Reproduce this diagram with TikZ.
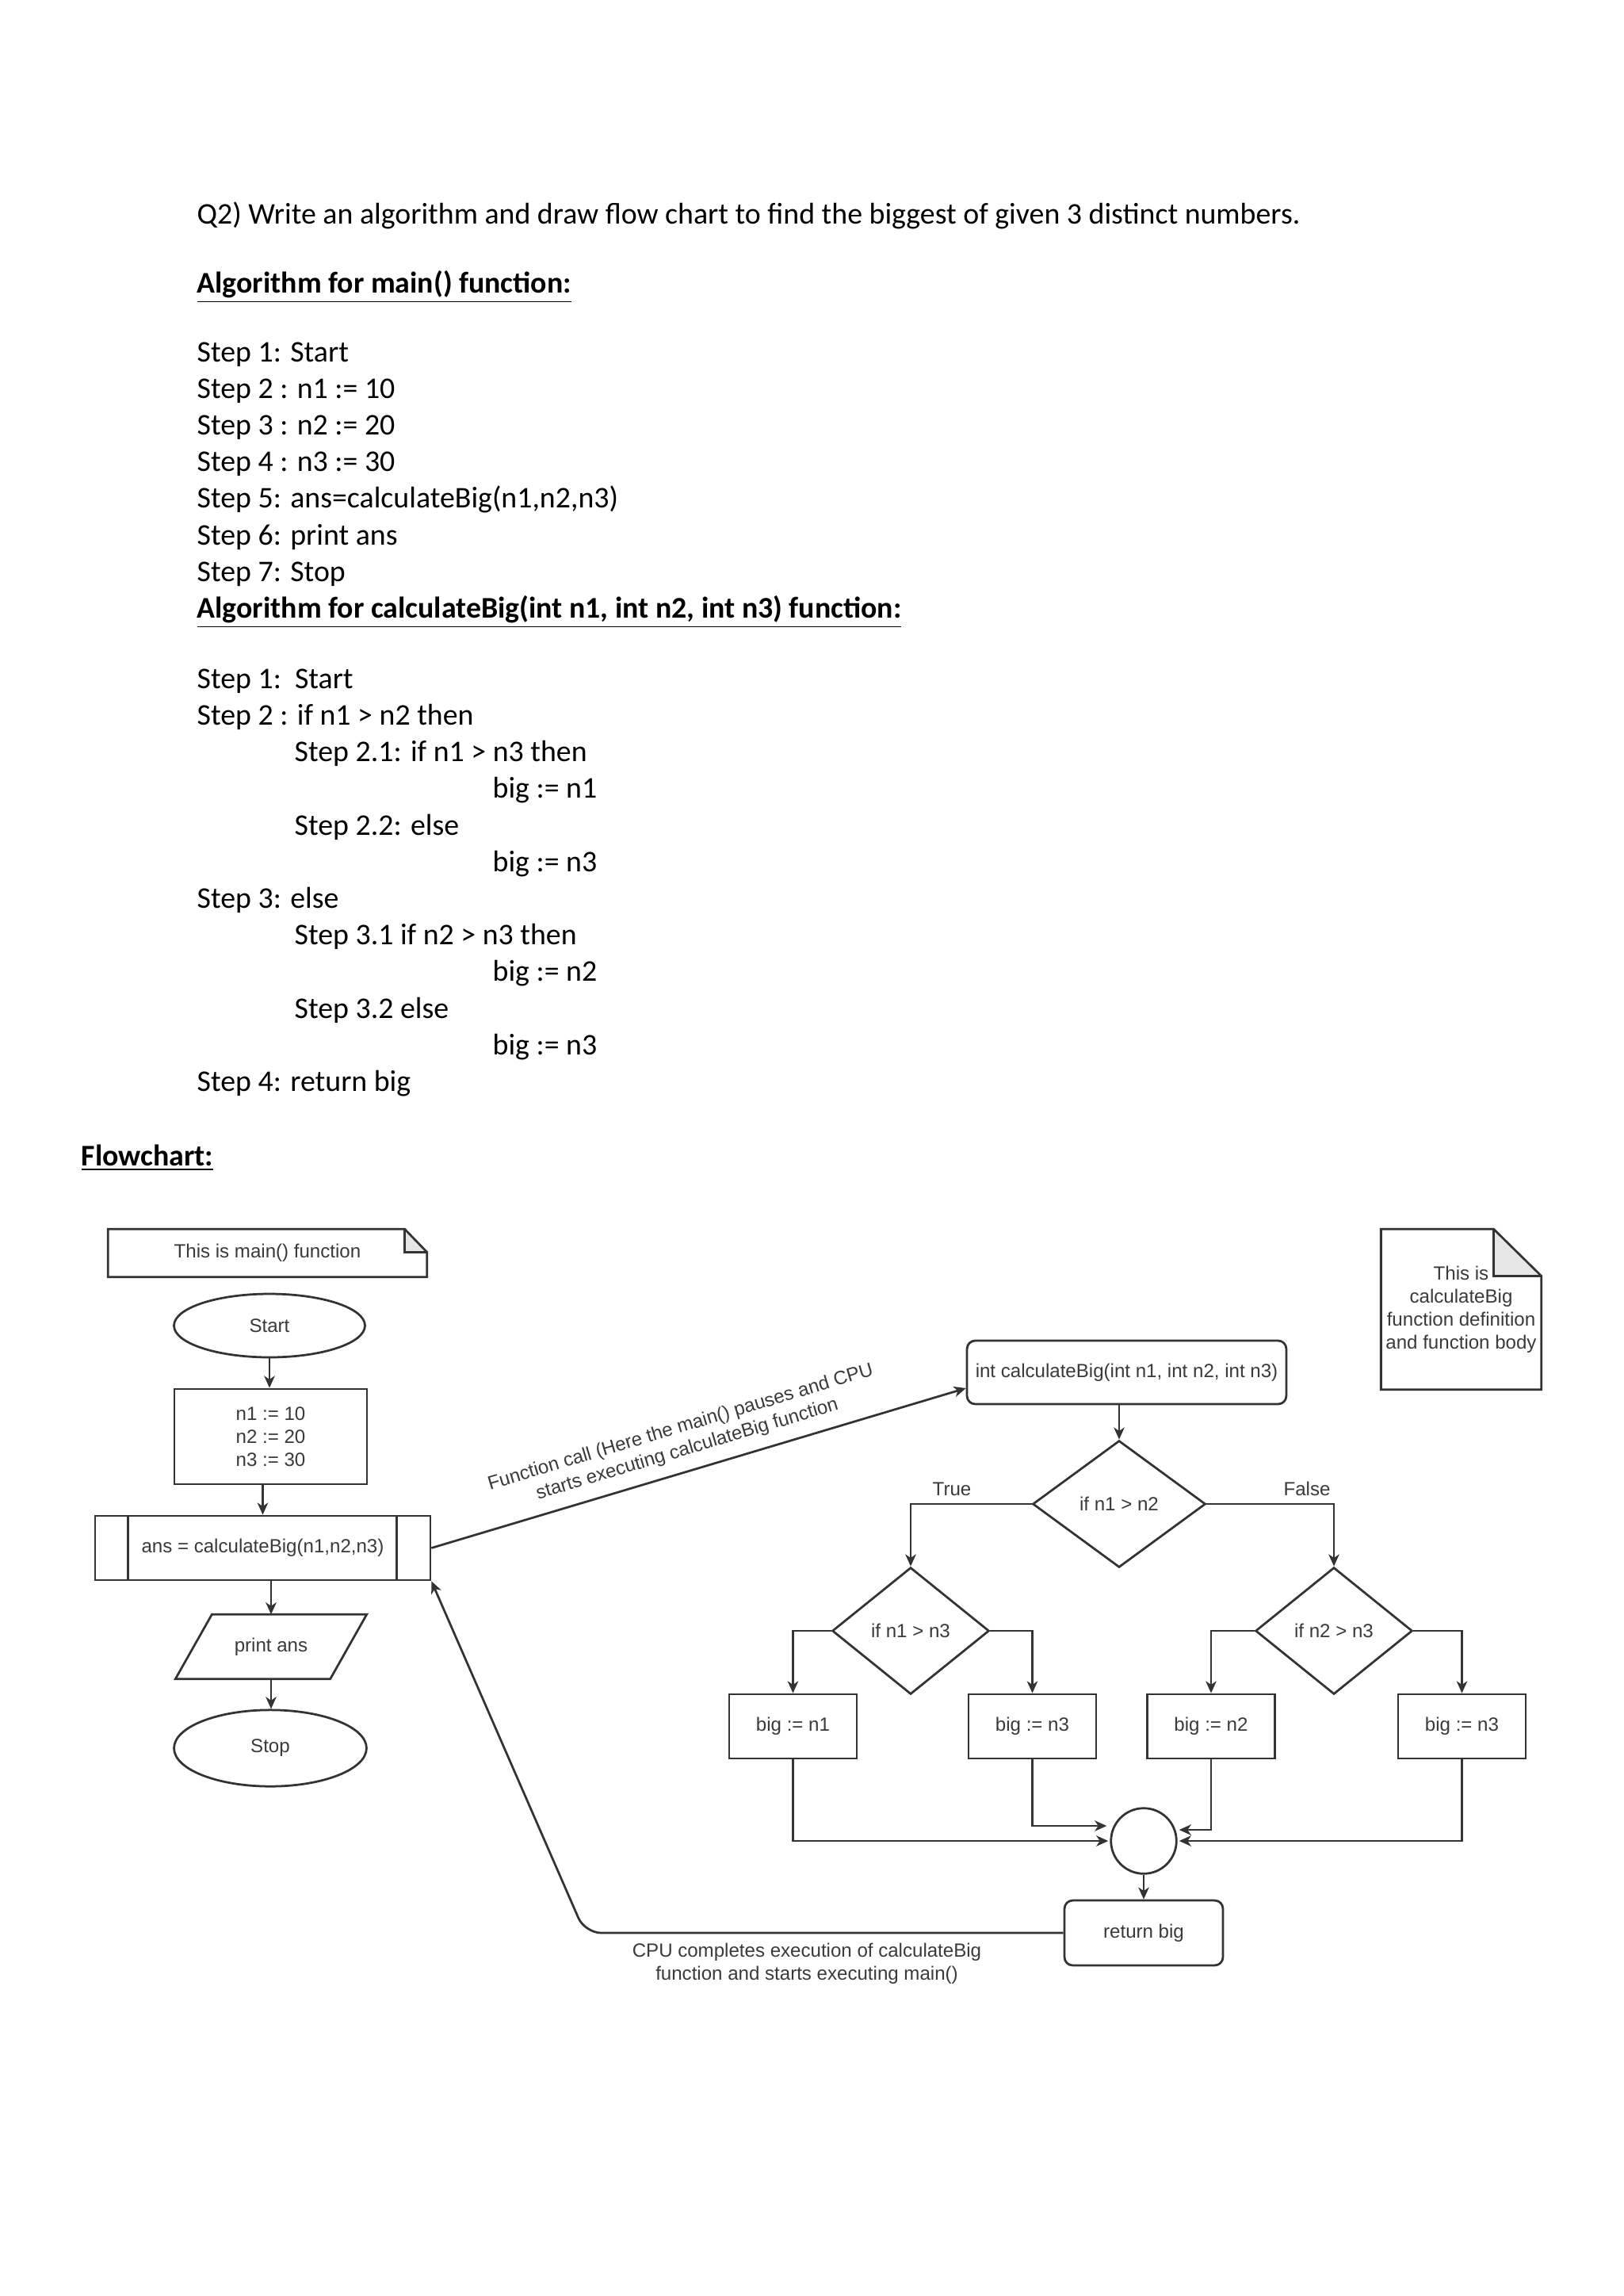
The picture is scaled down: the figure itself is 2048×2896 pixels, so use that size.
\documentclass[tikz,border=0pt]{standalone}
\usepackage{fontspec}
\setmainfont{Carlito}
\newfontfamily\fcfont{Liberation Sans}
\usetikzlibrary{shapes.geometric,calc,arrows.meta}
\definecolor{linec}{HTML}{333333}
\definecolor{fctext}{HTML}{3A3A3A}
\definecolor{foldc}{HTML}{E6E6E6}
\begin{document}
\begin{tikzpicture}[x=0.29066pt,y=-0.29066pt,
  doc/.style={anchor=base west, inner sep=0pt, font=\fontsize{11pt}{13.4pt}\selectfont},
  fc/.style={font=\fcfont\fontsize{7pt}{8.4pt}\selectfont, text=fctext, align=center, inner sep=0pt},
  shp/.style={fc, draw=linec, line width=0.8pt},
  box/.style={shp, rectangle},
  term/.style={shp, ellipse},
  dec/.style={shp, diamond},
  ln/.style={draw=linec, line width=0.8pt},
  arr/.style={ln, -{Stealth[length=4.4pt,width=3.9pt,inset=1.3pt]}},
]
\fill[white] (0,0) rectangle (2048,2896);
\useasboundingbox (0,0) rectangle (2048,2896);

% ---------- algorithm text ----------
\node[doc] (q) at (248,282) {Q2) Write an algorithm and draw flow chart to find the biggest of given 3 distinct numbers.};
\node[doc] (h1) at (248,369) {\underline{\textbf{Algorithm for main() function:}}};
\node[doc] (m1) at (248,456) {Step 1: Start};
\node[doc] (m2) at (248,502) {Step 2 : n1 := 10};
\node[doc] (m3) at (248,548) {Step 3 : n2 := 20};
\node[doc] (m4) at (248,594) {Step 4 : n3 := 30};
\node[doc] (m5) at (248,640) {Step 5: ans=calculateBig(n1,n2,n3)};
\node[doc] (m6) at (248,687) {Step 6: print ans};
\node[doc] (m7) at (248,733) {Step 7: Stop};
\node[doc] (h2) at (248,779) {\underline{\textbf{Algorithm for calculateBig(int n1, int n2, int n3) function:}}};
\node[doc] (c1) at (248,868) {Step 1:\ \ Start};
\node[doc] (c2) at (248,914) {Step 2 : if n1 > n2 then};
\node[doc] (c21) at (371,960) {Step 2.1: if n1 > n3 then};
\node[doc] (c21b) at (621,1006) {big := n1};
\node[doc] (c22) at (371,1053) {Step 2.2: else};
\node[doc] (c22b) at (621,1099) {big := n3};
\node[doc] (c3) at (248,1145) {Step 3: else};
\node[doc] (c31) at (371,1191) {Step 3.1 if n2 > n3 then};
\node[doc] (c31b) at (621,1237) {big := n2};
\node[doc] (c32) at (371,1284) {Step 3.2 else};
\node[doc] (c32b) at (621,1330) {big := n3};
\node[doc] (c4) at (248,1376) {Step 4: return big};
\node[doc] (fch) at (102,1470) {\underline{\textbf{Flowchart:}}};

% ---------- main() flowchart ----------
\node[fc, minimum width=116.55pt, minimum height=17.15pt] (nmain) at (337.5,1580.5) {This is main() function};
\fill[foldc] ($(nmain.north east)+(-28,0)$) -- ($(nmain.north east)+(-28,29)$) -- ($(nmain.north east)+(0,29)$) -- cycle;
\draw[ln] (nmain.south west) -- (nmain.north west) -- ($(nmain.north east)+(-28,0)$) -- ($(nmain.north east)+(0,29)$) -- (nmain.south east) -- cycle;
\draw[ln] ($(nmain.north east)+(-28,0)$) -- ($(nmain.north east)+(-28,29)$) -- ($(nmain.north east)+(0,29)$);

\node[term, minimum width=70.05pt, minimum height=23.25pt] (start) at (340,1672) {Start};
\node[box, minimum width=70.6pt, minimum height=34.9pt] (init) at (341.5,1812) {n1 := 10\\n2 := 20\\n3 := 30};
\node[box, minimum width=122.95pt, minimum height=23.54pt] (ans) at (331.5,1952.5) {ans = calculateBig(n1,n2,n3)};
\draw[ln] ($(ans.north west)+(43,0)$) -- ($(ans.south west)+(43,0)$);
\draw[ln] ($(ans.north east)+(-44,0)$) -- ($(ans.south east)+(-44,0)$);
\node[fc, minimum width=69.76pt, minimum height=23.25pt] (prt) at (342,2077) {print ans};
\draw[ln] (prt.south west) -- ($(prt.north west)+(46,0)$) -- (prt.north east) -- ($(prt.south east)+(-46,0)$) -- cycle;
\node[term, minimum width=70.6pt, minimum height=28pt] (stop) at (341,2205) {Stop};

\draw[arr] (start.south) -- (start.south |- init.north);
\draw[arr] (ans.north |- init.south) -- (ans.north);
\draw[arr] (prt.north |- ans.south) -- (prt.north);
\draw[arr] (prt.south) -- (prt.south |- stop.north);

% ---------- calculateBig flowchart ----------
\node[fc, minimum width=58.4pt, minimum height=58.4pt] (ncalc) at (1843.5,1651.5) {This is\\calculateBig\\function definition\\and function body};
\fill[foldc] ($(ncalc.north east)+(-60,0)$) -- ($(ncalc.north east)+(-60,59)$) -- ($(ncalc.north east)+(0,59)$) -- cycle;
\draw[ln] (ncalc.south west) -- (ncalc.north west) -- ($(ncalc.north east)+(-60,0)$) -- ($(ncalc.north east)+(0,59)$) -- (ncalc.south east) -- cycle;
\draw[ln] ($(ncalc.north east)+(-60,0)$) -- ($(ncalc.north east)+(-60,59)$) -- ($(ncalc.north east)+(0,59)$);

\node[box, rounded corners=3pt, minimum width=117.1pt, minimum height=23.25pt] (fn) at (1421.5,1731) {int calculateBig(int n1, int n2, int n3)};
\node[dec, minimum width=63.4pt, minimum height=46.5pt] (d1) at (1412,1897) {if n1 > n2};
\node[dec, minimum width=57.55pt, minimum height=46.5pt] (d2) at (1149,2057) {if n1 > n3};
\node[dec, minimum width=57.55pt, minimum height=46.5pt] (d3) at (1683,2057) {if n2 > n3};
\node[box, minimum width=46.8pt, minimum height=23.54pt] (b1) at (1000.5,2177.5) {big := n1};
\node[box, minimum width=46.8pt, minimum height=23.54pt] (b2) at (1302.5,2177.5) {big := n3};
\node[box, minimum width=46.8pt, minimum height=23.54pt] (b3) at (1528,2177.5) {big := n2};
\node[box, minimum width=46.8pt, minimum height=23.54pt] (b4) at (1844.5,2177.5) {big := n3};
\node[shp, circle, minimum size=24pt] (join) at (1443,2322) {};
\node[box, rounded corners=3pt, minimum width=58.1pt, minimum height=23.8pt] (ret) at (1443,2438) {return big};

\node[fc] (ltrue) at (1201,1878) {True};
\node[fc] (lfalse) at (1649,1878) {False};

\draw[arr] (d1.north |- fn.south) -- (d1.north);
\draw[arr] (d1.west) -| (d2.north);
\draw[arr] (d1.east) -| (d3.north);
\draw[arr] (d2.west) -| (b1.north);
\draw[arr] (d2.east) -| (b2.north);
\draw[arr] (d3.west) -| (b3.north);
\draw[arr] (d3.east) -| (b4.north);
\draw[arr] (b1.south) |- ($(join.west)+(-2,0)$);
\draw[arr] (b2.south) |- ($(join.west)+(-4,-19)$);
\draw[arr] (b3.south) |- ($(join.east)+(2,-14)$);
\draw[arr] (b4.south) |- ($(join.east)+(2,0)$);
\draw[arr] (join.south) -- (join.south |- ret.north);

% ---------- call and return ----------
\draw[arr] (ans.east) -- node[fc, sloped, above=4pt, pos=0.49] (calllbl) {Function call (Here the main() pauses and CPU\\starts executing calculateBig function} ($(fn.west)+(0,20)$);
\coordinate (retcorner) at (738,2438);
\draw[arr, rounded corners=6pt] (ret.west) -- (retcorner) -- (ans.south east);
\node[fc] (retlbl) at (1018,2477) {CPU completes execution of calculateBig\\function and starts executing main()};
\end{tikzpicture}
\end{document}
